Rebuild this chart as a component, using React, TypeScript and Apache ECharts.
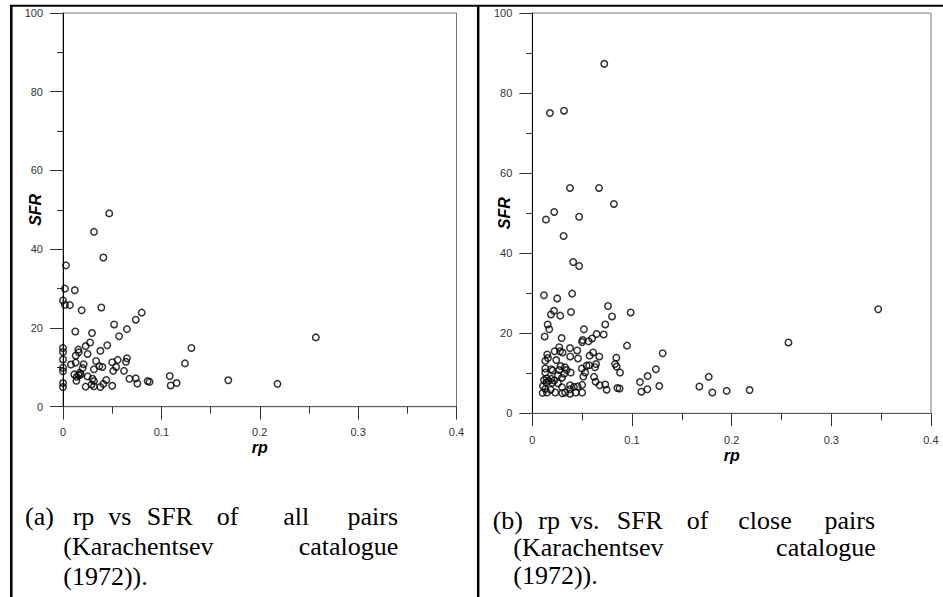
import React, { useEffect, useRef } from "react";
import * as echarts from "echarts";

// ---- data: (a) all pairs ----
const rpAll = [
  0.047, 0.0315, 0.041, 0.003, 0.002, 0.012, 0, 0.002, 0.007, 0.039, 0.019, 0.08, 0.074, 0.052, 0.065,
  0.0125, 0.0295, 0.057, 0.257, 0.0275, 0.045, 0.023, 0.1305, 0, 0.0156, 0, 0.038, 0.016, 0.025, 0.013,
  0.065, 0, 0.0556, 0.0336, 0.064, 0.05, 0.0129, 0.124, 0.008, 0.021, 0.037, 0.04, 0, 0.054, 0.02,
  0.0315, 0, 0.062, 0.051, 0.017, 0.0115, 0.018, 0.014, 0.025, 0.1085, 0.016, 0.074, 0.0675, 0.03, 0.0136,
  0.044, 0.168, 0.0315, 0.086, 0.088, 0, 0.1155, 0.0756, 0.218, 0.041, 0.029, 0.0315, 0, 0.05, 0.023,
  0.1095, 0.038,
];
const sfrAll = [
  49.1, 44.4, 37.9, 35.9, 30.0, 29.6, 27.0, 25.9, 25.8, 25.2, 24.5, 23.9, 22.1, 20.9, 19.7,
  19.1, 18.7, 17.9, 17.6, 16.3, 15.6, 15.4, 14.9, 14.9, 14.5, 13.9, 14.2, 13.8, 13.4, 13.0,
  12.3, 12.0, 11.9, 11.6, 11.4, 11.3, 11.2, 11.0, 10.7, 10.8, 10.3, 10.1, 9.9, 10.1, 9.8,
  9.5, 9.0, 9.1, 9.1, 8.6, 8.2, 8.2, 7.6, 7.7, 7.8, 8.0, 7.2, 7.1, 7.1, 6.6,
  6.8, 6.7, 6.5, 6.5, 6.3, 6.0, 6.0, 5.9, 5.8, 5.8, 5.6, 5.2, 5.0, 5.3, 5.1,
  5.4, 5.0,
];

// ---- data: (b) close pairs ----
const rpClose = [
  0.0722, 0.0177, 0.0318, 0.0378, 0.0669, 0.0819, 0.022, 0.0137, 0.047, 0.0314, 0.041, 0.047, 0.0117, 0.04, 0.025,
  0.0759, 0.347, 0.0217, 0.0388, 0.0987, 0.0187, 0.028, 0.08, 0.0154, 0.0732, 0.017, 0.0518, 0.0645, 0.0716, 0.0124,
  0.0294, 0.06, 0.0505, 0.0565, 0.05, 0.257, 0.095, 0.027, 0.0378, 0.045, 0.0224, 0.0278, 0.0304, 0.1308, 0.061,
  0.015, 0.0575, 0.038, 0.0672, 0.0843, 0.0157, 0.0458, 0.024, 0.013, 0.064, 0.083, 0.057, 0.0284, 0.0545, 0.0846,
  0.0328, 0.0629, 0.013, 0.019, 0.124, 0.0344, 0.027, 0.0498, 0.0204, 0.0385, 0.032, 0.013, 0.088, 0.053, 0.0258,
  0.1157, 0.177, 0.0512, 0.0619, 0.0298, 0.0144, 0.019, 0.0117, 0.0164, 0.022, 0.108, 0.0635, 0.014, 0.02, 0.0258,
  0.1274, 0.1676, 0.0676, 0.0732, 0.0378, 0.05, 0.0107, 0.0455, 0.0418, 0.0298, 0.0853, 0.0876, 0.0746, 0.1154, 0.218,
  0.013, 0.0184, 0.0378, 0.195, 0.1806, 0.1094, 0.03, 0.023, 0.0104, 0.0378, 0.05, 0.0435, 0.033, 0.0147,
];
const sfrClose = [
  87.3, 75.0, 75.6, 56.3, 56.3, 52.3, 50.3, 48.4, 49.1, 44.3, 37.8, 36.8, 29.5, 29.9, 28.7,
  26.8, 26.0, 25.6, 25.3, 25.2, 24.7, 24.4, 24.2, 22.2, 22.2, 21.0, 21.0, 19.8, 19.7, 19.2,
  18.8, 18.7, 18.3, 18.0, 17.8, 17.7, 16.9, 16.5, 16.3, 15.7, 15.5, 15.5, 15.2, 15.0, 15.2,
  14.7, 14.4, 14.2, 14.2, 13.9, 13.8, 13.7, 13.3, 13.1, 12.3, 12.3, 12.0, 11.8, 11.9, 11.7,
  11.5, 11.5, 11.2, 11.0, 11.0, 10.8, 10.8, 11.2, 10.7, 10.2, 9.9, 10.2, 10.2, 10.2, 9.5,
  9.3, 9.1, 9.2, 9.1, 8.9, 8.7, 8.6, 8.3, 8.1, 8.2, 7.8, 7.9, 7.7, 7.6, 7.5,
  6.8, 6.7, 7.0, 7.2, 7.0, 7.1, 6.8, 6.7, 6.6, 6.5, 6.3, 6.2, 5.9, 6.0, 5.8,
  6.1, 5.9, 6.0, 5.6, 5.2, 5.4, 5.0, 5.2, 5.1, 4.9, 5.2, 5.2, 5.2, 5.2,
];

// ---- axis / text labels ----
const xName = "rp";
const yName = "SFR";
const captionA = [
  ["(a)", "rp", "vs", "SFR", "of", "all", "pairs"],
  ["(Karachentsev", "catalogue"],
  ["(1972))."],
];
const captionB = [
  ["(b)", "rp", "vs.", "SFR", "of", "close", "pairs"],
  ["(Karachentsev", "catalogue"],
  ["(1972))."],
];

const zip = (xs: number[], ys: number[]) => xs.map((x, i) => [x, ys[i]]);

const axisFont = "Liberation Sans";
const serif = "Liberation Serif";

function makeX(gridIndex: number, labelMargin: number, nameGap: number) {
  return {
    gridIndex,
    type: "value",
    min: 0,
    max: 0.4,
    interval: 0.1,
    axisLine: { show: true, onZero: false, lineStyle: { color: "#555", width: 1 } },
    axisTick: { show: true, length: 13, lineStyle: { color: "#333", width: 1 } },
    minorTick: { show: true, splitNumber: 2, length: 7, lineStyle: { color: "#333", width: 1 } },
    splitLine: { show: false },
    minorSplitLine: { show: false },
    axisLabel: { margin: labelMargin, fontSize: 11, color: "#333", fontFamily: axisFont },
    name: xName,
    nameLocation: "middle",
    nameGap,
    nameMoveOverlap: false,
    nameTextStyle: { fontStyle: "italic", fontWeight: "bold", fontSize: 16, color: "#000", fontFamily: axisFont },
  };
}

function makeY(gridIndex: number) {
  return {
    gridIndex,
    type: "value",
    min: 0,
    max: 100,
    interval: 20,
    axisLine: { show: true, onZero: false, lineStyle: { color: "#000", width: 1 } },
    axisTick: { show: true, length: 13, lineStyle: { color: "#333", width: 1 } },
    minorTick: { show: true, splitNumber: 2, length: 6, lineStyle: { color: "#333", width: 1 } },
    splitLine: { show: false },
    minorSplitLine: { show: false },
    axisLabel: { margin: 20, fontSize: 11, color: "#333", fontFamily: axisFont },
    name: yName,
    nameLocation: "middle",
    nameGap: 20,
    nameRotate: 90,
    nameMoveOverlap: false,
    nameTextStyle: { fontStyle: "italic", fontWeight: "bold", fontSize: 16, color: "#000", fontFamily: axisFont },
  };
}

function words(line: string[], xs: number[], y: number, rightEnd?: number) {
  return line.map((w, i) => {
    const last = rightEnd !== undefined && i === line.length - 1 && line.length > 1;
    return {
      type: "text",
      x: last ? rightEnd : xs[i],
      y,
      silent: true,
      style: {
        text: w,
        fontSize: 26,
        lineHeight: 24,
        fontFamily: serif,
        fill: "#000",
        align: last ? "right" : "left",
        verticalAlign: "middle",
      },
    };
  });
}

export default function App() {
  const ref = useRef<HTMLDivElement>(null);
  useEffect(() => {
    if (!ref.current) return;
    const chart = echarts.init(ref.current, null, { renderer: "svg" });
    const symbolStyle = { color: "rgba(0,0,0,0)", borderColor: "#000", borderWidth: 1.5 };
    chart.setOption({
      animation: false,
      backgroundColor: "#fff",
      grid: [
        { left: 63, top: 13, width: 393.5, height: 393.7, show: true, borderColor: "#777", borderWidth: 1, backgroundColor: "transparent" },
        { left: 532.3, top: 13, width: 398.7, height: 400.3, show: true, borderColor: "#777", borderWidth: 1, backgroundColor: "transparent" },
      ],
      xAxis: [makeX(0, 20, 33), makeX(1, 21, 34)],
      yAxis: [makeY(0), makeY(1)],
      series: [
        {
          type: "scatter",
          xAxisIndex: 0,
          yAxisIndex: 0,
          data: zip(rpAll, sfrAll),
          symbol: "circle",
          symbolSize: 6.5,
          itemStyle: symbolStyle,
        },
        {
          type: "scatter",
          xAxisIndex: 1,
          yAxisIndex: 1,
          data: zip(rpClose, sfrClose),
          symbol: "circle",
          symbolSize: 6.5,
          itemStyle: symbolStyle,
        },
      ],
      graphic: [
        { type: "line", silent: true, shape: { x1: 10, y1: 5.7, x2: 943, y2: 5.7 }, style: { stroke: "#000", lineWidth: 2 } },
        { type: "line", silent: true, shape: { x1: 11.3, y1: 5, x2: 11.3, y2: 597 }, style: { stroke: "#000", lineWidth: 2.5 } },
        { type: "line", silent: true, shape: { x1: 478.2, y1: 5, x2: 478.2, y2: 597 }, style: { stroke: "#000", lineWidth: 2.5 } },
        ...words(captionA[0], [25, 72.7, 108.3, 146.7, 216.7, 283.3, 348.3], 516, 398),
        ...words(captionA[1], [63.3, 300], 546, 398.3),
        ...words(captionA[2], [63.3], 576),
        ...words(captionB[0], [492.7, 538.3, 570, 616.7, 686.7, 738.3, 825], 520, 875),
        ...words(captionB[1], [513.3, 778.3], 547, 875.7),
        ...words(captionB[2], [513.3], 575),
      ],
    });
    return () => chart.dispose();
  }, []);
  return (
    <div
      ref={ref}
      style={{ position: "fixed", left: 0, top: 0, width: 943, height: 597, background: "#fff" }}
    />
  );
}
